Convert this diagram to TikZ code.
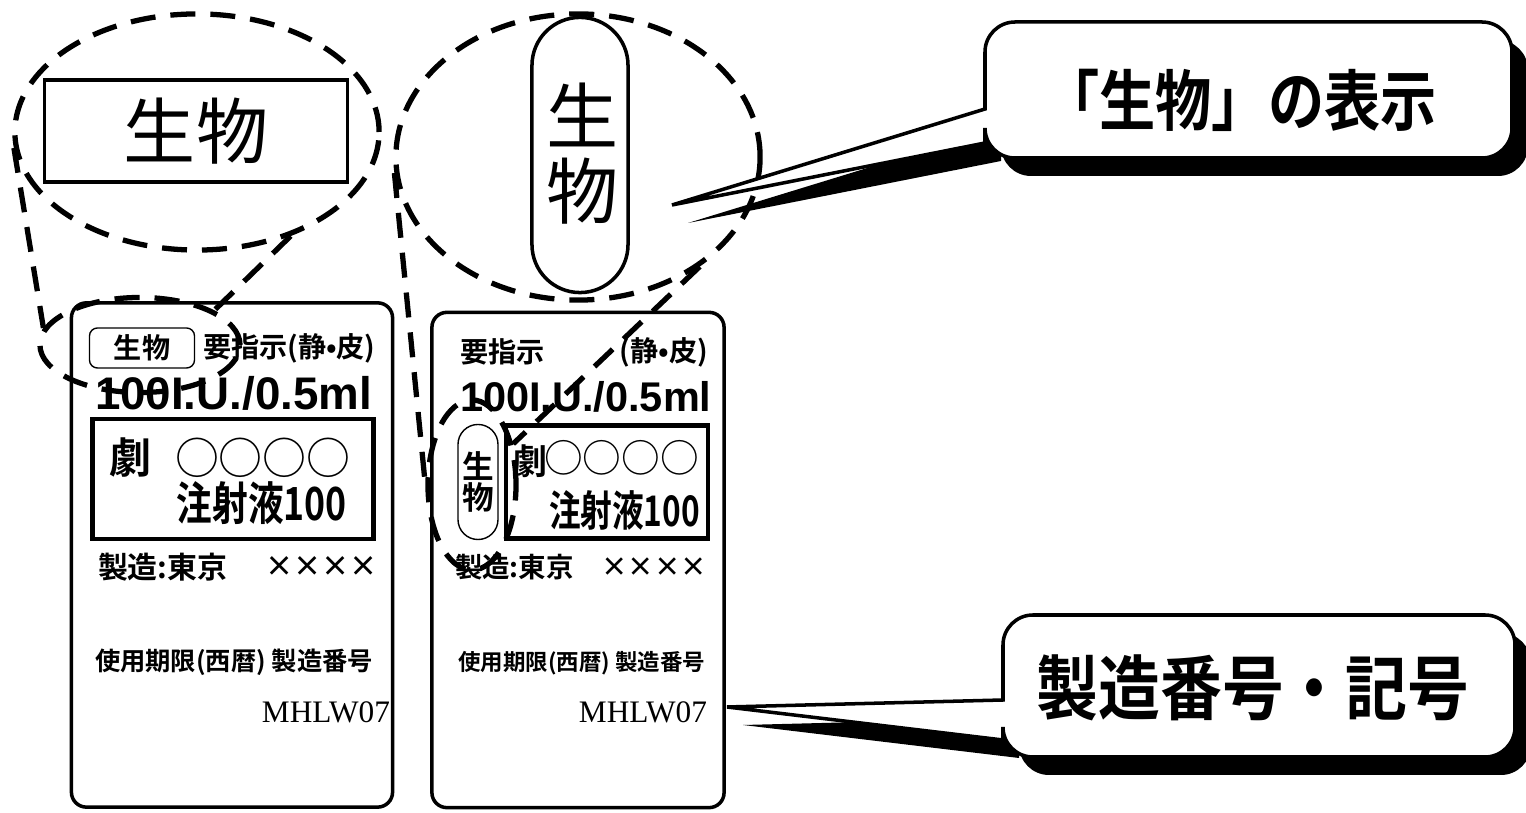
\documentclass[tikz,border=0pt]{standalone}
\usepackage{fontspec}
\usepackage{graphicx}
\setmainfont{Noto Sans CJK JP}[BoldFont={Noto Sans CJK JP Bold}]
\newfontfamily\latinsans{Liberation Sans}
\newfontfamily\latinserif{Liberation Serif}
\usetikzlibrary{positioning,shapes.geometric}
\newcommand{\fsz}[1]{\fontsize{#1}{#1}\selectfont}
\newcommand{\narrow}[2]{\scalebox{#1}[1]{#2}}
\newcommand{\balloonA}{(672,205) -- (985,109) [rounded corners=0.3cm] -- (985,22) -- (1512,22) -- (1512,158) -- (985,158) [sharp corners] -- (985,143) -- cycle}
\newcommand{\balloonB}{(727,707) -- (1003,700) [rounded corners=0.3cm] -- (1003,615) -- (1515,615) -- (1515,757) -- (1003,757) [sharp corners] -- (1003,740) -- cycle}

\begin{document}
\begin{tikzpicture}[x=0.01cm,y=-0.01cm]
   \tikzset{ring/.style = {ellipse, draw, line width=1.5pt, dash pattern=on 0.25cm off 0.15cm}, }
   \tikzset{ringline/.style = {line width=1.5pt, dash pattern=on 0.25cm off 0.15cm}, }
   \tikzset{ampoule/.style = {rectangle, draw, rounded corners=0.15cm, line width=1pt}, }
   \tikzset{drugbox/.style = {rectangle, draw, line width=1.2pt}, }
   \tikzset{txt/.style = {inner sep=0pt, outer sep=0pt, font=\bfseries\fsz{8pt}}, }
   \tikzset{balloon/.style = {draw, line width=1pt, fill=white}, }
   \useasboundingbox[fill=white] (0,0) rectangle (1526,813);

   % ampoule labels
   \node[ampoule, minimum width=3.21cm, minimum height=5.04cm] (ampL) at (232,555) {};
   \node[ampoule, minimum width=2.92cm, minimum height=4.95cm] (ampR) at (578,560) {};
   \node[drugbox, minimum width=2.81cm, minimum height=1.2cm] (drugL) at (233,479) {};
   \node[drugbox, minimum width=2.02cm, minimum height=1.13cm] (drugR) at (607,482) {};

   \node[draw, rounded corners=0.08cm, minimum width=1.05cm, minimum height=0.4cm, inner sep=0pt, font=\bfseries\fsz{8pt}] (bioL) at (142,348) {生物};
   \node[txt, anchor=west] (useL) at (203,348) {要指示(静•皮)};
   \node[txt, anchor=west, font=\latinsans\bfseries\fsz{13pt}] (doseL) at (95,393) {100I.U./0.5ml};
   \node[txt, font=\bfseries\fsz{12pt}] (gekiL) at (131,458) {劇};
   \node[txt, anchor=west, font=\fsz{12.5pt}] (nameL) at (175,458) {○○○○};
   \node[txt, anchor=east, font=\bfseries\fsz{13pt}] (injL) at (347,503) {\narrow{0.78}{注射液100}};
   \node[txt, anchor=west, font=\bfseries\fsz{8.5pt}] (makerL) at (98,567) {製造:東京};
   \node[txt, anchor=east, font=\bfseries\fsz{8pt}] (xxL) at (378,567) {××××};
   \node[txt, anchor=west, font=\bfseries\fsz{7.2pt}] (dateL) at (95,662) {使用期限(西暦)\ 製造番号};
   \node[txt, anchor=east, font=\latinserif\fsz{8.9pt}] (lotL) at (390,712) {MHLW07};

   \node[draw, rounded corners=0.2cm, minimum width=0.4cm, minimum height=1.15cm, inner sep=0pt, align=center, font=\bfseries\fsz{9pt}] (bioR) at (478,482) {生\\物};
   \node[txt, anchor=west] (useR) at (460,352) {要指示};
   \node[txt, anchor=east] (routeR) at (708,352) {(静•皮)};
   \node[txt, anchor=west, font=\latinsans\bfseries\fsz{11.8pt}] (doseR) at (460,397) {100I.U./0.5ml};
   \node[txt, font=\bfseries\fsz{10pt}] (gekiR) at (530,461) {劇};
   \node[txt, anchor=east, font=\fsz{11pt}] (nameR) at (699,458) {○○○○};
   \node[txt, anchor=east, font=\bfseries\fsz{12pt}] (injR) at (700,510) {\narrow{0.75}{注射液100}};
   \node[txt, anchor=west, font=\bfseries\fsz{7.8pt}] (makerR) at (455,567) {製造:東京};
   \node[txt, anchor=east, font=\bfseries\fsz{7.5pt}] (xxR) at (707,567) {××××};
   \node[txt, anchor=west, font=\bfseries\fsz{6.4pt}] (dateR) at (458,663) {使用期限(西暦)\ 製造番号};
   \node[txt, anchor=east, font=\latinserif\fsz{8.9pt}] (lotR) at (707,712) {MHLW07};

   % enlarged marks
   \node[drugbox, line width=1pt, minimum width=3.03cm, minimum height=1.02cm, inner sep=0pt, font=\fsz{20.5pt}] (bigL) at (196,131) {生物};
   \node[draw, line width=1pt, rounded corners=0.48cm, minimum width=0.96cm, minimum height=2.75cm] (pill) at (580,155) {};
   \node[txt, font=\fsz{20.5pt}] (bigR1) at (583,115) {生};
   \node[txt, font=\fsz{20.5pt}] (bigR2) at (583,191) {物};

   \node[ring, minimum width=3.64cm, minimum height=2.36cm] (ringL) at (197,132) {};
   \node[ring, minimum width=3.64cm, minimum height=2.86cm] (ringR) at (578,157) {};
   \node[ring, minimum width=2.0cm, minimum height=0.95cm] (spotL) at (140,345) {};
   \node[ring, minimum width=0.88cm, minimum height=1.7cm] (spotR) at (472,485) {};
   \draw[ringline] (ringL.185) -- (spotL.170);
   \draw[ringline] (ringL.-48) -- (spotL.25);
   \draw[ringline] (ringR.185) -- (spotR.180);
   \draw[ringline] (ringR.-42) -- (spotR.45);

   % callouts
   \fill[black, shift={(16,18)}] \balloonA;
   \draw[balloon] \balloonA;
   \fill[black, shift={(16,18)}] \balloonB;
   \draw[balloon] \balloonB;
   \node[font=\bfseries\fsz{18.8pt}] (capA) at (1240,100) {\narrow{0.85}{「生物」の表示}};
   \node[font=\bfseries\fsz{20pt}] (capB) at (1253,688) {\narrow{0.88}{製造番号・記号}};
\end{tikzpicture}
\end{document}
